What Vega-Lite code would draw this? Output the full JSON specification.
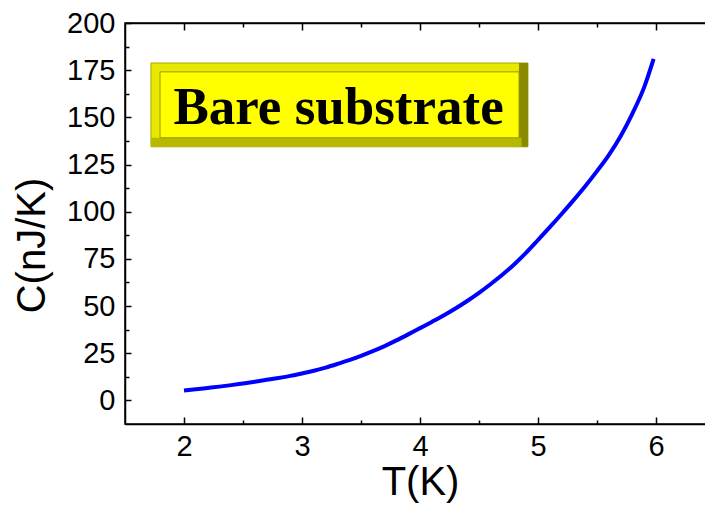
{
  "$schema": "https://vega.github.io/schema/vega-lite/v6.json",
  "autosize": {"type": "none"},
  "width": 590,
  "height": 401,
  "padding": {"left": 125, "top": 23, "right": 0, "bottom": 84},
  "background": "white",
  "config": {
    "view": {"stroke": "black", "strokeWidth": 1.5},
    "axis": {
      "domainColor": "black", "domainWidth": 1.5,
      "tickColor": "black", "tickWidth": 1.5,
      "labelFont": "Liberation Sans", "titleFont": "Liberation Sans",
      "labelColor": "black", "titleColor": "black",
      "grid": false, "labelFontSize": 29, "titleFontSize": 40, "titleFontWeight": "normal"
    }
  },
  "data": {"values": [{}]},
  "datasets": {
    "curve": [
      {"T": 2.0, "C": 5.3}, {"T": 2.1, "C": 5.9}, {"T": 2.2, "C": 6.6}, {"T": 2.3, "C": 7.3},
      {"T": 2.4, "C": 8.1}, {"T": 2.5, "C": 9.0}, {"T": 2.6, "C": 9.9}, {"T": 2.7, "C": 10.9},
      {"T": 2.8, "C": 11.9}, {"T": 2.9, "C": 13.0}, {"T": 3.0, "C": 14.3}, {"T": 3.1, "C": 15.7},
      {"T": 3.2, "C": 17.4}, {"T": 3.3, "C": 19.3}, {"T": 3.4, "C": 21.3}, {"T": 3.5, "C": 23.6},
      {"T": 3.6, "C": 26.1}, {"T": 3.7, "C": 28.8}, {"T": 3.8, "C": 31.8}, {"T": 3.9, "C": 35.0},
      {"T": 4.0, "C": 38.3}, {"T": 4.1, "C": 41.6}, {"T": 4.2, "C": 45.0}, {"T": 4.3, "C": 48.7},
      {"T": 4.4, "C": 52.7}, {"T": 4.5, "C": 57.0}, {"T": 4.6, "C": 61.7}, {"T": 4.7, "C": 66.7},
      {"T": 4.8, "C": 72.2}, {"T": 4.9, "C": 78.3}, {"T": 5.0, "C": 85.0}, {"T": 5.1, "C": 91.8},
      {"T": 5.2, "C": 98.8}, {"T": 5.3, "C": 106.0}, {"T": 5.4, "C": 113.5}, {"T": 5.5, "C": 121.5},
      {"T": 5.6, "C": 130.0}, {"T": 5.7, "C": 140.0}, {"T": 5.8, "C": 152.0}, {"T": 5.9, "C": 166.0},
      {"T": 5.98, "C": 181.0}
    ]
  },
  "layer": [
    {
      "mark": {"type": "rect", "fill": "#e8e800", "stroke": "#a8a800", "strokeWidth": 1},
      "encoding": {
        "x": {"datum": 1.72, "type": "quantitative", "scale": {"domain": [1.5, 6.5], "nice": false, "zero": false}, "axis": null},
        "x2": {"datum": 4.915},
        "y": {"datum": 134.4, "type": "quantitative", "scale": {"domain": [-12.5, 200], "nice": false, "zero": false}, "axis": null},
        "y2": {"datum": 178.8}
      }
    },
    {
      "mark": {"type": "rect", "fill": "#8a8a00"},
      "encoding": {
        "x": {"datum": 4.839, "type": "quantitative", "axis": null},
        "x2": {"datum": 4.915},
        "y": {"datum": 134.4, "type": "quantitative", "axis": null},
        "y2": {"datum": 178.8}
      }
    },
    {
      "mark": {"type": "rect", "fill": "#b8b800"},
      "encoding": {
        "x": {"datum": 1.72, "type": "quantitative", "axis": null},
        "x2": {"datum": 4.86},
        "y": {"datum": 134.4, "type": "quantitative", "axis": null},
        "y2": {"datum": 139.2}
      }
    },
    {
      "mark": {"type": "rect", "fill": "#ffff00", "stroke": "#9a9a00", "strokeWidth": 1},
      "encoding": {
        "x": {"datum": 1.797, "type": "quantitative", "axis": null},
        "x2": {"datum": 4.839},
        "y": {"datum": 139.2, "type": "quantitative", "axis": null},
        "y2": {"datum": 174.1}
      }
    },
    {
      "mark": {"type": "text", "text": "Bare substrate", "font": "Liberation Serif", "fontWeight": "bold", "fontSize": 53, "align": "center", "baseline": "alphabetic", "color": "black"},
      "encoding": {
        "x": {"datum": 3.31, "type": "quantitative", "axis": null},
        "y": {"datum": 146.6, "type": "quantitative", "axis": null}
      }
    },
    {
      "data": {"name": "curve"},
      "mark": {"type": "line", "color": "#0000ff", "strokeWidth": 4, "interpolate": "monotone"},
      "encoding": {
        "x": {
          "field": "T", "type": "quantitative",
          "axis": {
            "orient": "bottom", "title": "T(K)",
            "values": [2, 2.5, 3, 3.5, 4, 4.5, 5, 5.5, 6],
            "labelExpr": "datum.value % 1 === 0 ? format(datum.value, 'd') : ''",
            "tickSize": {"condition": {"test": "datum.value % 1 === 0", "value": -7}, "value": -4},
            "labelPadding": 15, "titlePadding": 1
          }
        },
        "y": {
          "field": "C", "type": "quantitative",
          "axis": {
            "orient": "left", "title": "C(nJ/K)",
            "values": [0, 12.5, 25, 37.5, 50, 62.5, 75, 87.5, 100, 112.5, 125, 137.5, 150, 162.5, 175, 187.5, 200],
            "labelExpr": "datum.value % 25 === 0 ? datum.label : ''",
            "tickSize": {"condition": {"test": "datum.value % 25 === 0", "value": -6}, "value": -4},
            "labelPadding": 16, "titlePadding": 14, "titleY": 222
          }
        }
      }
    },
    {
      "data": {"name": "curve"},
      "mark": {"type": "point", "opacity": 0},
      "encoding": {
        "x": {
          "field": "T", "type": "quantitative",
          "axis": {
            "orient": "top", "title": null, "labels": false,
            "values": [2, 2.5, 3, 3.5, 4, 4.5, 5, 5.5, 6],
            "tickSize": {"condition": {"test": "datum.value % 1 === 0", "value": -7}, "value": -4}
          }
        },
        "y": {"field": "C", "type": "quantitative", "axis": null}
      }
    }
  ],
  "resolve": {"axis": {"x": "independent", "y": "independent"}}
}
